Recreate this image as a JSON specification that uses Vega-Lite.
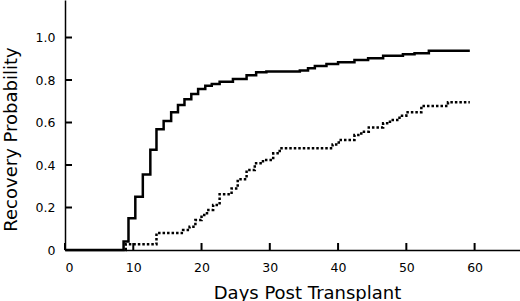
{
  "$schema": "https://vega.github.io/schema/vega-lite/v6.json",
  "autosize": "none",
  "width": 455,
  "height": 250,
  "padding": {"left": 65, "top": 0, "right": 0, "bottom": 51},
  "background": "white",
  "config": {
    "view": {"stroke": null},
    "font": "DejaVu Sans",
    "axis": {
      "domainColor": "black",
      "domainWidth": 1.5,
      "ticks": false,
      "grid": false,
      "labelColor": "black",
      "labelFont": "DejaVu Sans",
      "labelFontSize": 12.5,
      "titleColor": "black",
      "titleFont": "DejaVu Sans",
      "titleFontSize": 18,
      "titleFontWeight": "normal"
    }
  },
  "datasets": {
    "curves": [
      {"group": "A", "day": 0, "p": 0},
      {"group": "A", "day": 8.58, "p": 0.04},
      {"group": "A", "day": 9.3, "p": 0.149},
      {"group": "A", "day": 10.3, "p": 0.251},
      {"group": "A", "day": 11.4, "p": 0.355},
      {"group": "A", "day": 12.5, "p": 0.472},
      {"group": "A", "day": 13.4, "p": 0.568},
      {"group": "A", "day": 14.45, "p": 0.607},
      {"group": "A", "day": 15.55, "p": 0.648},
      {"group": "A", "day": 16.55, "p": 0.682},
      {"group": "A", "day": 17.5, "p": 0.709},
      {"group": "A", "day": 18.5, "p": 0.734},
      {"group": "A", "day": 19.5, "p": 0.758},
      {"group": "A", "day": 20.55, "p": 0.773},
      {"group": "A", "day": 21.5, "p": 0.781},
      {"group": "A", "day": 22.65, "p": 0.792},
      {"group": "A", "day": 24.6, "p": 0.805},
      {"group": "A", "day": 26.6, "p": 0.822},
      {"group": "A", "day": 28.0, "p": 0.836},
      {"group": "A", "day": 29.5, "p": 0.84},
      {"group": "A", "day": 34.4, "p": 0.845},
      {"group": "A", "day": 35.6, "p": 0.855},
      {"group": "A", "day": 36.6, "p": 0.866},
      {"group": "A", "day": 38.3, "p": 0.875},
      {"group": "A", "day": 40.0, "p": 0.883},
      {"group": "A", "day": 42.4, "p": 0.894},
      {"group": "A", "day": 44.4, "p": 0.902},
      {"group": "A", "day": 46.6, "p": 0.914},
      {"group": "A", "day": 49.5, "p": 0.921},
      {"group": "A", "day": 51.2, "p": 0.926},
      {"group": "A", "day": 53.3, "p": 0.938},
      {"group": "A", "day": 59.3, "p": 0.938},
      {"group": "B", "day": 8.87, "p": 0},
      {"group": "B", "day": 8.9, "p": 0.027},
      {"group": "B", "day": 13.4, "p": 0.08},
      {"group": "B", "day": 17.3, "p": 0.094},
      {"group": "B", "day": 18.25, "p": 0.11},
      {"group": "B", "day": 19.1, "p": 0.141},
      {"group": "B", "day": 20.0, "p": 0.165},
      {"group": "B", "day": 20.8, "p": 0.188},
      {"group": "B", "day": 21.7, "p": 0.212},
      {"group": "B", "day": 22.65, "p": 0.262},
      {"group": "B", "day": 24.4, "p": 0.29},
      {"group": "B", "day": 25.3, "p": 0.333},
      {"group": "B", "day": 26.6, "p": 0.376},
      {"group": "B", "day": 27.8, "p": 0.408},
      {"group": "B", "day": 29.0, "p": 0.424},
      {"group": "B", "day": 30.5, "p": 0.455},
      {"group": "B", "day": 31.45, "p": 0.479},
      {"group": "B", "day": 39.2, "p": 0.497},
      {"group": "B", "day": 40.1, "p": 0.518},
      {"group": "B", "day": 42.4, "p": 0.541},
      {"group": "B", "day": 43.4, "p": 0.557},
      {"group": "B", "day": 44.5, "p": 0.577},
      {"group": "B", "day": 46.6, "p": 0.596},
      {"group": "B", "day": 47.6, "p": 0.612},
      {"group": "B", "day": 49.0, "p": 0.632},
      {"group": "B", "day": 50.0, "p": 0.648},
      {"group": "B", "day": 52.2, "p": 0.678},
      {"group": "B", "day": 56.1, "p": 0.695},
      {"group": "B", "day": 59.3, "p": 0.695}
    ],
    "xticks": [
      {"day": 0}, {"day": 10}, {"day": 20}, {"day": 30}, {"day": 40}, {"day": 50}, {"day": 60}
    ],
    "yticks": [
      {"p": 0}, {"p": 0.2}, {"p": 0.4}, {"p": 0.6}, {"p": 0.8}, {"p": 1.0}
    ]
  },
  "layer": [
    {
      "data": {"name": "curves"},
      "mark": {"type": "line", "interpolate": "step-after", "color": "black", "clip": false},
      "encoding": {
        "x": {
          "field": "day",
          "type": "quantitative",
          "scale": {"domain": [0, 66.65], "nice": false, "zero": false},
          "axis": {
            "values": [0, 10, 20, 30, 40, 50, 60],
            "format": "d",
            "labelPadding": 11,
            "title": "Days Post Transplant",
            "titleX": 242,
            "titleY": 48,
            "titleAnchor": "middle",
            "titleBaseline": "alphabetic"
          }
        },
        "y": {
          "field": "p",
          "type": "quantitative",
          "scale": {"domain": [0, 1.1765], "nice": false},
          "axis": {
            "values": [0, 0.2, 0.4, 0.6, 0.8, 1.0],
            "labelExpr": "datum.value == 0 ? '0' : format(datum.value, '.1f')",
            "labelPadding": 10,
            "title": "Recovery Probability",
            "titleX": -49,
            "titleY": 139,
            "titleAngle": -90,
            "titleAnchor": "middle",
            "titleAlign": "center",
            "titleBaseline": "alphabetic"
          }
        },
        "strokeDash": {
          "field": "group",
          "type": "nominal",
          "scale": {"domain": ["A", "B"], "range": [[1, 0], [2.5, 2]]},
          "legend": null
        },
        "strokeWidth": {
          "field": "group",
          "type": "nominal",
          "scale": {"domain": ["A", "B"], "range": [2.5, 2.5]},
          "legend": null
        }
      }
    },
    {
      "data": {"name": "xticks"},
      "mark": {"type": "tick", "orient": "vertical", "color": "black", "size": 7, "thickness": 2, "yOffset": -3.5, "opacity": 1, "clip": false},
      "encoding": {
        "x": {"field": "day", "type": "quantitative"},
        "y": {"datum": 0, "type": "quantitative"}
      }
    },
    {
      "data": {"name": "yticks"},
      "mark": {"type": "tick", "orient": "horizontal", "color": "black", "size": 7, "thickness": 2, "xOffset": 3.5, "opacity": 1, "clip": false},
      "encoding": {
        "y": {"field": "p", "type": "quantitative"},
        "x": {"datum": 0, "type": "quantitative"}
      }
    }
  ]
}
